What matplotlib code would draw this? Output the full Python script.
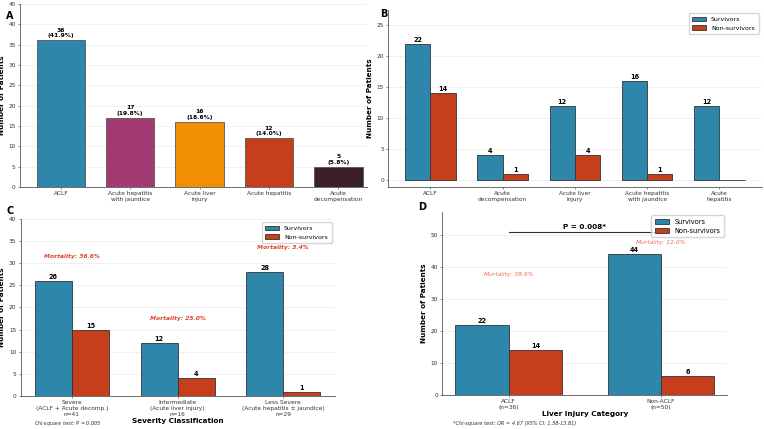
import numpy as np
import matplotlib
matplotlib.use('Agg')
import matplotlib.pyplot as plt

# colours
BLUE = '#2E86AB'
RED = '#C73E1D'
colors_a = ['#2E86AB', '#A23B72', '#F18F01', '#C73E1D', '#3B1F2B']

# panel A
cat_a = ['ACLF', 'Acute hepatitis\nwith jaundice', 'Acute liver\ninjury', 'Acute hepatitis', 'Acute\ndecompensation']
n_a = [36, 17, 16, 12, 5]
pct_a = [41.9, 19.8, 18.6, 14.0, 5.8]

# panel B
cat_b = ['ACLF', 'Acute\ndecompensation', 'Acute liver\ninjury', 'Acute hepatitis\nwith jaundice', 'Acute\nhepatitis']
surv_b = [22, 4, 12, 16, 12]
dead_b = [14, 1, 4, 1, 0]

# panel C
cat_c = ['Severe\n(ACLF + Acute decomp.)\nn=41', 'Intermediate\n(Acute liver injury)\nn=16',
         'Less Severe\n(Acute hepatitis \u00b1 jaundice)\nn=29']
surv_c = [26, 12, 28]
dead_c = [15, 4, 1]
mort_c = [36.6, 25.0, 3.4]

# panel D
cat_d = ['ACLF\n(n=36)', 'Non-ACLF\n(n=50)']
surv_d = [22, 44]
dead_d = [14, 6]
mort_d = [38.9, 12.0]
mort_d_y = [37.6, 47.7]

TICK = 4.2
LAB = 5.2
VAL = 4.3

fig = plt.figure(figsize=(7.64, 4.29), dpi=100)
axA = fig.add_axes([0.026, 0.564, 0.454, 0.427])
axB = fig.add_axes([0.508, 0.565, 0.489, 0.412])
axC = fig.add_axes([0.027, 0.077, 0.411, 0.413])
axD = fig.add_axes([0.579, 0.079, 0.373, 0.427])


def style(ax):
    ax.spines['top'].set_visible(False)
    ax.spines['right'].set_visible(False)
    ax.spines['left'].set_color('#555555')
    ax.spines['bottom'].set_color('#555555')
    ax.spines['left'].set_linewidth(0.6)
    ax.spines['bottom'].set_linewidth(0.6)
    ax.tick_params(labelsize=TICK, length=1.5, width=0.4, pad=1.5, colors='#333333')
    ax.yaxis.grid(True, alpha=0.3, linewidth=0.4)
    ax.set_axisbelow(True)
    ax.set_ylabel('Number of Patients', fontsize=LAB, fontweight='bold', labelpad=2.5)


# A
x = np.arange(len(cat_a))
bars = axA.bar(x, n_a, 0.7, color=colors_a, edgecolor='#555555', linewidth=0.6)
for b, n, p in zip(bars, n_a, pct_a):
    axA.text(b.get_x() + b.get_width() / 2, n + 0.5, f'{n}\n({p}%)', ha='center', va='bottom',
             fontsize=VAL, fontweight='bold', linespacing=1.1)
axA.set_xticks(x)
axA.set_xticklabels(cat_a)
axA.set_ylim(0, 45)
axA.set_xlim(-0.59, 4.41)
style(axA)
fig.text(0.008, 0.963, 'A', fontsize=7, fontweight='bold', va='center')


def grouped(ax, cats, s, d, w=0.35, labelzero=False):
    x = np.arange(len(cats))
    b1 = ax.bar(x - w / 2, s, w, color=BLUE, edgecolor='#333333', linewidth=0.6, label='Survivors')
    b2 = ax.bar(x + w / 2, d, w, color=RED, edgecolor='#333333', linewidth=0.6, label='Non-survivors')
    for bs in (b1, b2):
        for b in bs:
            h = b.get_height()
            if h > 0 or labelzero:
                ax.text(b.get_x() + b.get_width() / 2, h + ax.get_ylim()[1] * 0.005, f'{int(h)}',
                        ha='center', va='bottom', fontsize=VAL + 0.4, fontweight='bold')
    ax.set_xticks(x)
    ax.set_xticklabels(cats)
    return x


# B
axB.set_ylim(-1.1, 27.5)
xb = grouped(axB, cat_b, surv_b, dead_b)
style(axB)
axB.set_yticks([0, 5, 10, 15, 20, 25])
axB.legend(loc='upper right', fontsize=4.5, frameon=True, handlelength=2.2, borderpad=0.6)
fig.text(0.498, 0.967, 'B', fontsize=7, fontweight='bold', va='center')

# C
axC.set_ylim(0, 40)
xc = grouped(axC, cat_c, surv_c, dead_c)
style(axC)
for i, m in enumerate(mort_c):
    axC.text(xc[i], max(surv_c[i], dead_c[i]) + 5, f'Mortality: {m}%', ha='center', va='bottom',
             fontsize=4.3, fontweight='bold', fontstyle='italic', color='#D9452A')
axC.set_xlabel('Severity Classification', fontsize=LAB, fontweight='bold', labelpad=1)
axC.legend(loc='upper right', fontsize=4.5, frameon=True, handlelength=2.2, borderpad=0.6)
fig.text(0.089, 0.009, 'Chi-square test: $P$ = 0.005', fontsize=3.6, fontstyle='italic',
         ha='center', color='#333333')
fig.text(0.008, 0.507, 'C', fontsize=7, fontweight='bold', va='center')

# D
axD.set_ylim(0, 57.2)
xd = grouped(axD, cat_d, surv_d, dead_d)
style(axD)
axD.set_yticks([0, 10, 20, 30, 40, 50])
for i, m in enumerate(mort_d):
    axD.text(xd[i], mort_d_y[i], f'Mortality: {m}%', ha='center', va='center',
             fontsize=4.3, fontstyle='italic', color='#E0553A', alpha=0.85)
axD.plot([xd[0], xd[1]], [51, 51], color='#333333', linewidth=0.8)
axD.text((xd[0] + xd[1]) / 2, 51.6, 'P = 0.008*', ha='center', va='bottom', fontsize=5.2, fontweight='bold')
axD.set_xlabel('Liver Injury Category', fontsize=LAB, fontweight='bold', labelpad=1)
axD.legend(loc='upper right', fontsize=4.8, frameon=True, handlelength=2.2, borderpad=0.5)
fig.text(0.674, 0.009, '*Chi-square test: OR = 4.67 (95% CI: 1.58-13.81)', fontsize=3.6,
         fontstyle='italic', ha='center', color='#333333')
fig.text(0.547, 0.518, 'D', fontsize=7, fontweight='bold', va='center')

fig.savefig('out.png', dpi=100)
